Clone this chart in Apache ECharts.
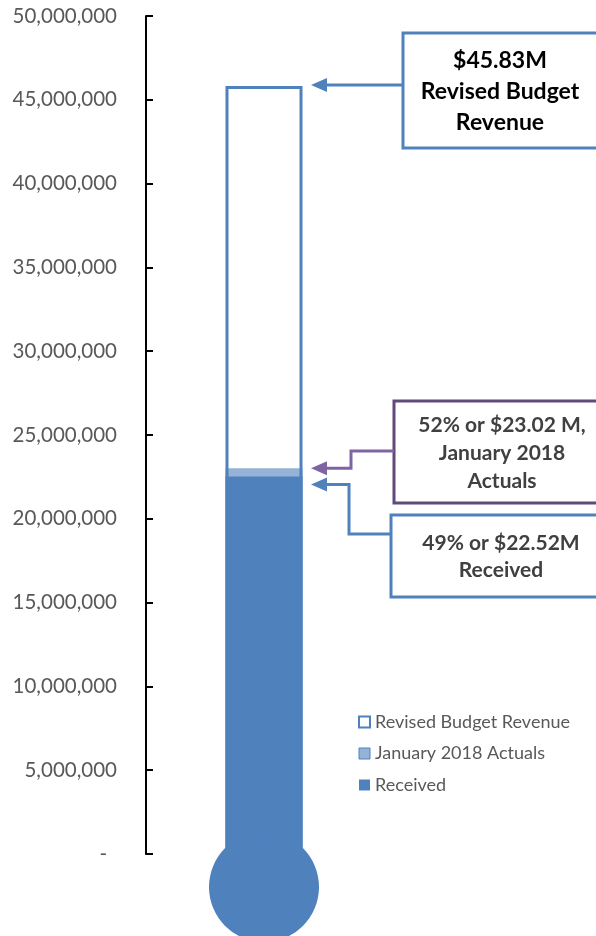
<!DOCTYPE html>
<html>
<head>
<meta charset="utf-8">
<script src="https://cdn.jsdelivr.net/npm/echarts@6/dist/echarts.min.js"></script>
<style>
html,body{margin:0;padding:0;background:#fff;}
#chart{width:596px;height:936px;}
</style>
</head>
<body>
<div id="chart"></div>
<script>
var categories = ['Revenue'];
var revisedBudget = [45830000];
var januaryActuals = [23020000];
var received = [22520000];
var bulbBase = [0];
var seriesNames = ['Revised Budget Revenue', 'January 2018 Actuals', 'Received'];
var noteRevised = ['$45.83M', 'Revised Budget', 'Revenue'];
var noteActuals = ['52% or $23.02 M,', 'January 2018', 'Actuals'];
var noteReceived = ['49% or $22.52M', 'Received'];

var BLUE = '#4F81BD', LIGHT = '#95B3D7', PURPLE = '#604A7B', PURPLE2 = '#8064A2';
var FONT = 'Lato, "Open Sans", sans-serif';

var chart = echarts.init(document.getElementById('chart'));
chart.setOption({
  animation: false,
  backgroundColor: '#fff',
  grid: {left: 146, right: 214, top: 16, bottom: 82},
  xAxis: {type: 'category', data: categories, show: false},
  yAxis: {
    type: 'value', min: 0, max: 50000000, interval: 5000000,
    axisLine: {show: true, lineStyle: {color: '#000', width: 2}},
    axisTick: {show: true, inside: true, length: 7, lineStyle: {color: '#000', width: 2}},
    splitLine: {show: false},
    axisLabel: {
      margin: 29, color: '#595959', fontFamily: FONT, fontSize: 20.5,
      formatter: function (v) { return v === 0 ? '{z|-}' : v.toLocaleString('en-US'); },
      rich: {z: {color: '#595959', fontFamily: FONT, fontSize: 20.5, padding: [0, 10, 0, 0]}}
    }
  },
  legend: {
    orient: 'vertical', left: 353, top: 708, itemWidth: 11, itemHeight: 11, itemGap: 13.5,
    textStyle: {color: '#595959', fontFamily: FONT, fontSize: 18},
    data: [
      {name: seriesNames[0], icon: 'rect', itemStyle: {color: '#fff', borderColor: BLUE, borderWidth: 2}},
      {name: seriesNames[1], icon: 'rect', itemStyle: {color: LIGHT, borderColor: BLUE, borderWidth: 1}},
      {name: seriesNames[2], icon: 'rect', itemStyle: {color: BLUE}}
    ]
  },
  series: [
    {type: 'scatter', name: 'bulb', data: bulbBase, symbol: 'circle', symbolSize: 110, symbolOffset: [0, 33],
     itemStyle: {color: BLUE, opacity: 1}, clip: false, silent: true, z: 5},
    {type: 'bar', name: seriesNames[1], data: januaryActuals, barWidth: 77, barGap: '-100%',
     itemStyle: {color: LIGHT}, z: 2},
    {type: 'bar', name: seriesNames[2], data: received, barWidth: 77, barGap: '-100%',
     itemStyle: {color: BLUE}, z: 3},
    {type: 'bar', name: seriesNames[0], data: revisedBudget, barWidth: 77, barGap: '-100%',
     itemStyle: {color: 'rgba(255,255,255,0)', borderColor: BLUE, borderWidth: 3}, z: 4}
  ]
});

var cx = chart.convertToPixel({xAxisIndex: 0}, 0);
var barRight = cx + 39;
var yRev = chart.convertToPixel({yAxisIndex: 0}, revisedBudget[0]);
var yAct = chart.convertToPixel({yAxisIndex: 0}, januaryActuals[0]);
var yRec = chart.convertToPixel({yAxisIndex: 0}, received[0]);

function head(tipX, y, color) {
  return {type: 'polygon', shape: {points: [[tipX, y], [tipX + 16, y - 7], [tipX + 16, y + 7]]},
          style: {fill: color}, z: 20};
}
function box(x, y, w, h, color) {
  return {type: 'rect', shape: {x: x, y: y, width: w, height: h},
          style: {fill: '#fff', stroke: color, lineWidth: 3}, z: 20};
}
function txt(lines, x, cy, lh, color, size) {
  return {type: 'text', x: x, y: cy, z: 21,
          style: {text: lines.join('\n'), fill: color, font: 'bold ' + size + 'px ' + FONT,
                  textAlign: 'center', textVerticalAlign: 'middle', lineHeight: lh}};
}

var tip = barRight + 8;
var g = [];
g.push(box(403, 33, 240, 115, BLUE));
g.push({type: 'polyline', shape: {points: [[403, yRev - 1], [tip + 14, yRev - 1]]},
        style: {stroke: BLUE, lineWidth: 3}, z: 20});
g.push(head(tip, yRev - 1, BLUE));
g.push(txt(noteRevised, 500, 92, 31, '#000', 23));

g.push(box(394, 401, 240, 102, PURPLE));
g.push({type: 'polyline', shape: {points: [[394, 451], [351, 451], [351, yAct], [tip + 14, yAct]]},
        style: {stroke: PURPLE2, lineWidth: 3}, z: 20});
g.push(head(tip, yAct, PURPLE2));
g.push(txt(noteActuals, 502, 453, 28, '#404040', 21));

g.push(box(391, 515, 240, 82, BLUE));
g.push({type: 'polyline', shape: {points: [[391, 534], [349, 534], [349, yRec + 8], [tip + 14, yRec + 8]]},
        style: {stroke: BLUE, lineWidth: 3}, z: 20});
g.push(head(tip, yRec + 8, BLUE));
g.push(txt(noteReceived, 501, 557, 27, '#404040', 21));

chart.setOption({graphic: g});
</script>
</body>
</html>
